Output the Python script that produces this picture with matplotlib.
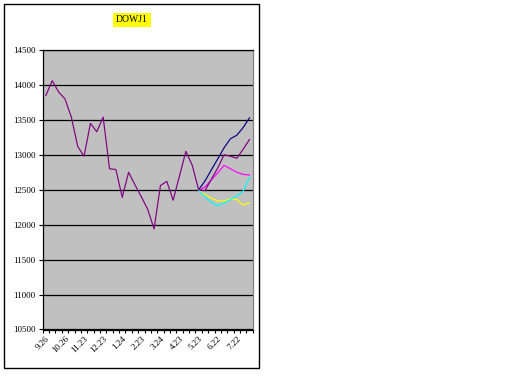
import matplotlib
matplotlib.use('Agg')
import matplotlib.pyplot as plt
import matplotlib.transforms as mtransforms
from matplotlib.patches import Rectangle
import numpy as np

plt.rcParams['font.family'] = ['Liberation Serif', 'DejaVu Serif']

# number of categories on the x axis, labels every 3rd one
n_cat = 33
tick_labels = ['9.26', '10.26', '11.23', '12.23', '1.24', '2.23',
               '3.24', '4.23', '5.23', '6.22', '7.22']

# actual DOW values
dow = [13850, 14060, 13900, 13800, 13540, 13120, 12980, 13450, 13330, 13540,
       12800, 12790, 12390, 12750, 12570, 12400, 12220, 11940, 12560, 12620,
       12350, 12700, 13050, 12850, 12500, 12487, 12650, 12810, 13000, 12980,
       12950, 13080, 13220]

# forecast lines, starting at category 24
fc_start = 24
navy = [12500, 12625, 12785, 12940, 13100, 13230, 13280, 13390, 13530]
magenta = [12490, 12540, 12640, 12740, 12850, 12800, 12750, 12720, 12710]
cyan = [12490, 12400, 12320, 12270, 12310, 12360, 12410, 12480, 12680]
yellow = [12490, 12430, 12380, 12340, 12340, 12370, 12360, 12280, 12310]

fig = plt.figure(figsize=(5.12, 3.84), dpi=100)
ax = fig.add_axes([42.7 / 512, 1 - 329.5 / 384, 210 / 512, 279.5 / 384])
ax.set_facecolor('#C0C0C0')

x = np.arange(n_cat)
fx = np.arange(fc_start, fc_start + len(navy))
ax.plot(fx, navy, color='#000080', lw=0.85)
ax.plot(fx, magenta, color='#FF00FF', lw=0.85)
ax.plot(fx, yellow, color='#FFFF00', lw=0.85)
ax.plot(fx, cyan, color='#00FFFF', lw=0.85)
ax.plot(x[:len(dow)], dow, color='#800080', lw=0.85)

ax.set_xlim(-0.5, n_cat - 0.5)
ax.set_ylim(10500, 14500)
ax.set_yticks(np.arange(10500, 14501, 500))
ax.yaxis.grid(True, color='black', lw=0.9)
ax.set_axisbelow(True)

ax.set_xticks(x[::3][:len(tick_labels)])
ax.set_xticks(np.arange(-0.5, n_cat, 1), minor=True)
ax.set_xticklabels(tick_labels, rotation=45, ha='right', va='top',
                   rotation_mode='anchor', fontsize=6.5)
shift = mtransforms.ScaledTranslation(-5 / 100, -6 / 100, fig.dpi_scale_trans)
for lab in ax.get_xticklabels():
    lab.set_transform(lab.get_transform() + shift)
ax.tick_params(axis='x', which='major', length=0)
ax.tick_params(axis='x', which='minor', length=2, direction='out', width=0.8)
ax.tick_params(axis='y', length=3, width=0.8, labelsize=6.5, pad=2)

for s in ['left', 'bottom', 'top']:
    ax.spines[s].set_color('black')
    ax.spines[s].set_linewidth(0.9)
ax.spines['right'].set_color('#808080')
ax.spines['right'].set_linewidth(0.9)

fig.text(132 / 512, 1 - 20 / 384, 'DOWJ1', ha='center', va='center',
         fontsize=7, bbox=dict(facecolor='#FFFF00', edgecolor='none', pad=2))

fig.patches.append(Rectangle((4 / 512, 1 - 368 / 384), 255 / 512, 364 / 384,
                             fill=False, ec='black', lw=1,
                             transform=fig.transFigure, figure=fig))

fig.savefig('out.png', dpi=100)
